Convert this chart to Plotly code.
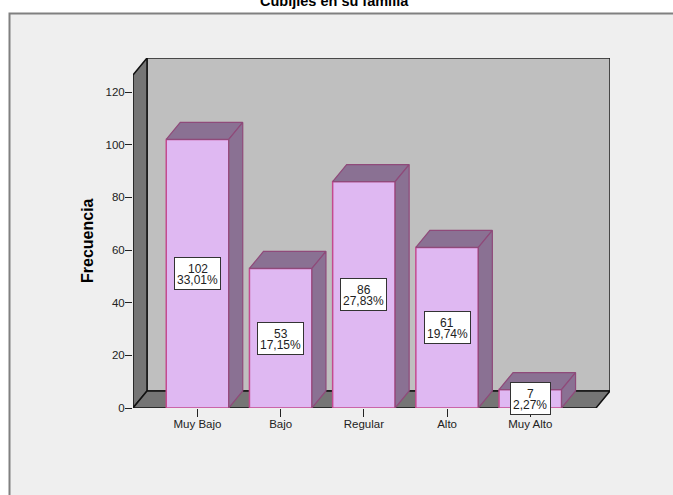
import plotly.graph_objects as go

categories = ["Muy Bajo", "Bajo", "Regular", "Alto", "Muy Alto"]
values = [102, 53, 86, 61, 7]
percents = ["33,01%", "17,15%", "27,83%", "19,74%", "2,27%"]
y_ticks = [0, 20, 40, 60, 80, 100, 120]
title_text = "Cubijles en su familia"
y_title = "Frecuencia"

W, H = 673, 495
L, R, T, B = 133, 610, 58, 408          # plot area in pixels
STEP = 83.2                              # pixels per category
UNIT = 2.633                             # pixels per frequency unit
DX = 14 / STEP                           # 3D depth in x units
DY = 17 / UNIT                           # 3D depth in y units
BAR_W = 62.5 / STEP
X0 = (L - 197.5) / STEP
X1 = (R - 197.5) / STEP
Y1 = (B - T) / UNIT
FRONT_R = X1 - DX
FRONT_T = Y1 - DY

FRONT = "#dfb8f2"
FRONT_EDGE = "#c44a90"
SHADE = "#8a7193"
SHADE_EDGE = "#8f4a7a"
WALL = "#bfbfbf"
DARK = "#757575"
FRAME = "#efefef"
FONT = "Liberation Sans"
INK = "#222222"


def path(pts):
    return "M" + " L".join(f"{x},{y}" for x, y in pts) + " Z"


def px(v):
    return (v - L) / (R - L)


def py(v):
    return (B - v) / (B - T)


fig = go.Figure()
fig.add_bar(
    x=list(range(len(values))), y=values, width=BAR_W,
    marker=dict(color=FRONT, line=dict(color=FRONT_EDGE, width=1.5)),
    cliponaxis=False, showlegend=False, hoverinfo="skip",
)

for i, v in enumerate(values):
    a, b = i - BAR_W / 2, i + BAR_W / 2
    fig.add_scatter(
        x=[a, b, b + DX, a + DX, a], y=[v, v, v + DY, v + DY, v],
        mode="lines", fill="toself", fillcolor=SHADE,
        line=dict(color=SHADE_EDGE, width=1.2),
        cliponaxis=False, showlegend=False, hoverinfo="skip",
    )
    fig.add_scatter(
        x=[b, b + DX, b + DX, b, b], y=[0, DY, v + DY, v, 0],
        mode="lines", fill="toself", fillcolor=SHADE,
        line=dict(color=SHADE_EDGE, width=1.2),
        cliponaxis=False, showlegend=False, hoverinfo="skip",
    )

shapes = [
    dict(type="rect", xref="paper", yref="paper", layer="below",
         x0=px(9.5), x1=px(W + 20), y0=py(H + 20), y1=py(13.5),
         fillcolor=FRAME, line=dict(color="#808080", width=2)),
    dict(type="path", xref="x", yref="y", layer="below",
         path=path([(X0 + DX, DY), (X1, DY), (X1, Y1), (X0 + DX, Y1)]),
         fillcolor=WALL, line=dict(color="#222222", width=1.5)),
    dict(type="path", xref="x", yref="y", layer="below",
         path=path([(X0, 0), (X0 + DX, DY), (X0 + DX, Y1), (X0, FRONT_T)]),
         fillcolor=DARK, line=dict(color="#111111", width=1.5)),
    dict(type="path", xref="x", yref="y", layer="below",
         path=path([(X0, 0), (FRONT_R, 0), (X1, DY), (X0 + DX, DY)]),
         fillcolor=DARK, line=dict(color="#111111", width=1.5)),
]

annotations = [
    dict(text=f"<b>{title_text}</b>", xref="paper", yref="paper",
         x=px(334), y=py(11), xanchor="center", yanchor="bottom",
         showarrow=False, font=dict(family=FONT, size=14.5, color="#000000")),
    dict(text=f"<b>{y_title}</b>", xref="paper", yref="paper",
         x=px(87), y=py(241), xanchor="center", yanchor="middle", textangle=-90,
         showarrow=False, font=dict(family=FONT, size=16, color="#000000")),
]
for i, (v, p) in enumerate(zip(values, percents)):
    annotations.append(dict(
        text=" ", x=i, y=v / 2, xref="x", yref="y", showarrow=False,
        width=(39 if len(p) == 5 else 45), height=31,
        bgcolor="#ffffff", bordercolor="#333333", borderwidth=1, borderpad=0,
        font=dict(family=FONT, size=12),
    ))
    annotations.append(dict(
        text=str(v), x=i, y=v / 2, xref="x", yref="y", showarrow=False,
        yshift=4.5, font=dict(family=FONT, size=12, color=INK),
    ))
    annotations.append(dict(
        text=p, x=i, y=v / 2, xref="x", yref="y", showarrow=False,
        yshift=-6.5, font=dict(family=FONT, size=12, color=INK),
    ))

fig.update_layout(
    width=W, height=H,
    margin=dict(l=L, r=W - R, t=T, b=H - B, autoexpand=False),
    paper_bgcolor="#ffffff", plot_bgcolor="rgba(0,0,0,0)",
    showlegend=False, shapes=shapes, annotations=annotations,
    font=dict(family=FONT, size=11.5, color=INK),
    xaxis=dict(range=[X0, X1], tickvals=list(range(len(categories))),
               ticktext=categories, ticks="outside", ticklen=8, tickwidth=1,
               tickcolor=INK, showgrid=False, zeroline=False, showline=False,
               automargin=False, ticklabelstandoff=-3),
    yaxis=dict(range=[0, Y1], tickvals=y_ticks, ticks="outside", ticklen=7,
               tickwidth=1, tickcolor=INK, showgrid=False, zeroline=False,
               showline=False, automargin=False, ticklabelstandoff=-2),
)

fig.write_html("out.html", config=dict(displayModeBar=False),
               post_script="document.body.style.margin='0';document.documentElement.style.overflow='hidden';")
